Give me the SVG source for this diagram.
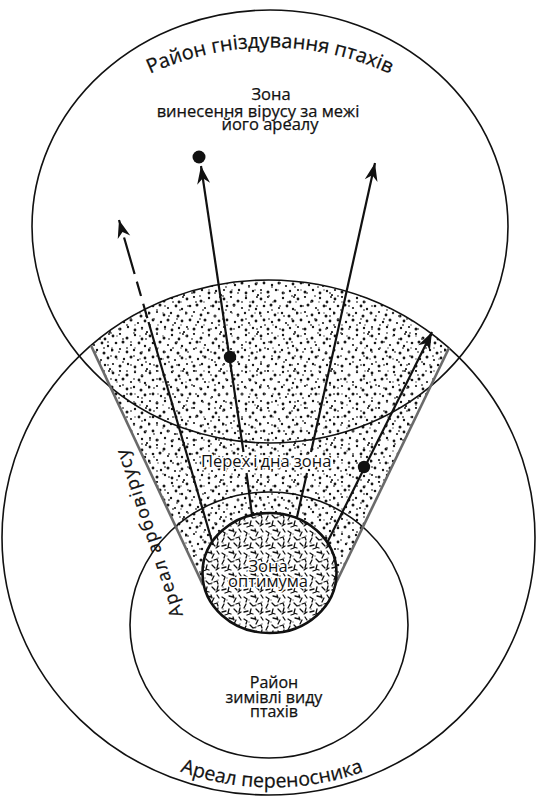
<svg xmlns="http://www.w3.org/2000/svg" width="537" height="803" viewBox="0 0 537 803">
<style>
.ln{fill:none;stroke:#111;stroke-width:1.6}
.cone{stroke:#6a6a6a;stroke-width:2.6;fill:none}
.arr{stroke:#111;stroke-width:2.2;fill:none}
.dot{fill:#111}
.t{font-family:"Open Sans","Noto Sans",sans-serif;fill:#111;stroke:#111;stroke-width:0.25}
.halo{paint-order:stroke;stroke:#fff;stroke-width:3;stroke-linejoin:round}
</style>
<defs>
<marker id="ah" viewBox="-19 -7 20 14" markerWidth="20" markerHeight="14" refX="0" refY="0" orient="auto" markerUnits="userSpaceOnUse">
<path d="M0,0 L-18,-6.5 L-12.5,0 L-18,6.5 Z" fill="#111"/>
</marker>
<pattern id="stip" width="37" height="37" patternUnits="userSpaceOnUse">
<g fill="#161616">
<circle cx="2" cy="3" r="1.4"/><circle cx="9" cy="1" r="1.1"/><circle cx="16" cy="5" r="1.5"/><circle cx="24" cy="2" r="1.2"/><circle cx="31" cy="6" r="1.4"/><circle cx="35" cy="1" r="1"/>
<circle cx="5" cy="10" r="1.3"/><circle cx="12" cy="9" r="1.5"/><circle cx="20" cy="12" r="1.1"/><circle cx="28" cy="10" r="1.4"/><circle cx="34" cy="13" r="1.2"/>
<circle cx="1" cy="17" r="1.5"/><circle cx="9" cy="16" r="1.1"/><circle cx="16" cy="19" r="1.4"/><circle cx="23" cy="17" r="1.2"/><circle cx="30" cy="20" r="1.5"/>
<circle cx="5" cy="24" r="1.4"/><circle cx="13" cy="26" r="1.2"/><circle cx="20" cy="24" r="1.5"/><circle cx="27" cy="27" r="1.1"/><circle cx="34" cy="25" r="1.4"/>
<circle cx="2" cy="31" r="1.1"/><circle cx="9" cy="33" r="1.5"/><circle cx="17" cy="31" r="1.2"/><circle cx="24" cy="34" r="1.4"/><circle cx="31" cy="32" r="1.2"/><circle cx="36" cy="36" r="1.1"/>
</g>
</pattern>
<pattern id="stip2" width="23" height="23" patternUnits="userSpaceOnUse">
<g fill="#555">
<circle cx="4" cy="7" r="0.9"/><circle cx="12" cy="3" r="1"/><circle cx="19" cy="11" r="0.9"/><circle cx="8" cy="17" r="1"/><circle cx="16" cy="20" r="0.9"/><circle cx="2" cy="14" r="0.8"/><circle cx="20" cy="3" r="0.8"/>
</g>
</pattern>
<pattern id="squig" width="22" height="22" patternUnits="userSpaceOnUse">
<path d="M2,3 l3,2 l-1,3 M9,2 l4,1 M16,4 l-2,4 M19,1 l2,3 M4,10 l-2,4 M8,9 l3,3 l3,-1 M16,10 l3,-1 l1,3 M20,14 l-1,4 M2,18 l4,-1 M9,15 l-1,4 l3,1 M14,15 l3,3 M18,20 l3,-2 M5,21 l3,-1 M13,1 l1,3" stroke="#111" stroke-width="1.3" fill="none" stroke-linecap="round"/>
<g fill="#666"><circle cx="7" cy="6" r="0.7"/><circle cx="13" cy="12" r="0.7"/><circle cx="20" cy="8" r="0.7"/><circle cx="3" cy="15" r="0.7"/></g>
</pattern>
<path id="topArc" d="M 120,90 A 286 286 0 0 1 420,90"/>
<path id="botArc" d="M 110,734 A 272 272 0 0 0 434,734"/>
</defs>
<rect width="537" height="803" fill="#fff"/>

<g id="transition-zone">
<path d="M 91,345.5 A 266.5 257.5 0 0 1 449,348 L 335,585 L 203,585 Z" fill="url(#stip)"/>
<path d="M 91,345.5 A 266.5 257.5 0 0 1 449,348 L 335,585 L 203,585 Z" fill="url(#stip2)"/>
</g>

<g id="nesting-area">
<ellipse class="ln" cx="270" cy="226.5" rx="238" ry="216.5"/>
<text class="t" font-size="20"><textPath href="#topArc" startOffset="50%" text-anchor="middle">Район гніздування птахів</textPath></text>
<text class="t" font-size="16.5" text-anchor="middle"><tspan x="271" y="100">Зона</tspan><tspan x="258" y="117">винесення вірусу за межі</tspan><tspan x="270" y="130">його ареалу</tspan></text>
</g>

<g id="vector-area">
<ellipse class="ln" cx="268.5" cy="537.5" rx="266.5" ry="257.5"/>
<text class="t" font-size="19.5"><textPath href="#botArc" startOffset="50%" text-anchor="middle">Ареал переносника</textPath></text>
</g>

<g id="wintering-area">
<ellipse class="ln" cx="269" cy="625" rx="139" ry="133" stroke-width="2.1"/>
<text class="t" font-size="16" text-anchor="middle"><tspan x="274" y="688">Район</tspan><tspan x="274" y="703">зимівлі  виду</tspan><tspan x="274" y="717">птахів</tspan></text>
</g>

<g id="arbovirus-area">
<line class="cone" x1="91" y1="345.5" x2="203" y2="585"/>
<line class="cone" x1="449" y1="348" x2="335" y2="585"/>
<text class="t" font-size="18" textLength="176" lengthAdjust="spacing" transform="translate(183,615) rotate(-108.5)">Ареал арбовірусу</text>
</g>

<g id="optimum-zone">
<ellipse cx="269.5" cy="573" rx="67" ry="60" fill="#fff"/>
<ellipse cx="269.5" cy="573" rx="67" ry="60" fill="url(#squig)" stroke="#111" stroke-width="2.6"/>
<text class="t halo" font-size="16.5" text-anchor="middle"><tspan x="268" y="572">Зона</tspan><tspan x="268" y="587">оптимума</tspan></text>
</g>

<g id="connectors">
<line class="arr" x1="213" y1="545" x2="148.5" y2="322"/>
<line class="arr" x1="148.5" y1="322" x2="119" y2="220" stroke-dasharray="0 4 15 8 15 8 34" marker-end="url(#ah)"/>
<line class="arr" x1="252" y1="515" x2="246.5" y2="473"/>
<line class="arr" x1="243.5" y1="452" x2="201" y2="166" marker-end="url(#ah)"/>
<circle class="dot" cx="199" cy="157" r="6.5"/>
<circle class="dot" cx="230" cy="357" r="6.2"/>
<line class="arr" x1="297" y1="517" x2="307" y2="473"/>
<line class="arr" x1="311" y1="452" x2="375" y2="163" marker-end="url(#ah)"/>
<line class="arr" x1="327" y1="543" x2="432" y2="332" marker-end="url(#ah)"/>
<circle class="dot" cx="364" cy="467" r="6.2"/>
</g>

<g id="transition-label">
<text class="t halo" x="201" y="467" font-size="16.5">Перех<tspan dx="3">і</tspan><tspan dx="3">дна</tspan> зона</text>
</g>
</svg>
